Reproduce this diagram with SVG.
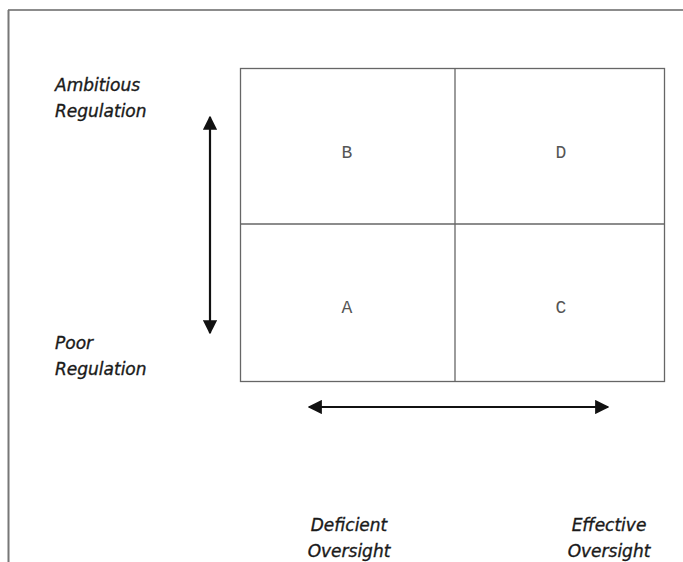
<svg xmlns="http://www.w3.org/2000/svg" width="683" height="562" viewBox="0 0 683 562">
<style>
.lbl{font-family:"DejaVu Sans","Liberation Sans",sans-serif;font-style:italic;font-size:17px;fill:#1a1a1a;stroke:#1a1a1a;stroke-width:0.35}
.q{font-family:"Liberation Mono","DejaVu Sans Mono",monospace;font-size:18px;fill:#555;text-anchor:middle}
.grid{fill:none;stroke:#666;stroke-width:1.3}
.ax{stroke:#111;stroke-width:2.2;fill:none}
</style>
<defs>
<marker id="ah" viewBox="0 0 10 10" refX="9" refY="5" markerWidth="6.5" markerHeight="6.5" markerUnits="strokeWidth" orient="auto-start-reverse">
<path d="M0,0 L10,5 L0,10 z" fill="#111"/>
</marker>
</defs>
<g id="frame">
<line x1="8" y1="10" x2="683" y2="10" stroke="#666" stroke-width="1.5"/>
<line x1="8.5" y1="10" x2="8.5" y2="562" stroke="#777" stroke-width="2"/>
</g>
<g id="quadrants">
<rect class="grid" x="240.5" y="68.5" width="424" height="313"/>
<line class="grid" x1="455" y1="68.5" x2="455" y2="381.5"/>
<line class="grid" x1="240.5" y1="224" x2="664.5" y2="224"/>
</g>
<g id="node-B"><text class="q" x="347" y="158">B</text></g>
<g id="node-D"><text class="q" x="561" y="158">D</text></g>
<g id="node-A"><text class="q" x="347" y="313">A</text></g>
<g id="node-C"><text class="q" x="561" y="313">C</text></g>
<g id="connectors">
<line class="ax" x1="210" y1="117" x2="210" y2="333" marker-start="url(#ah)" marker-end="url(#ah)"/>
<line class="ax" x1="309" y1="407" x2="608" y2="407" marker-start="url(#ah)" marker-end="url(#ah)"/>
</g>
<g id="label-ambitious">
<text class="lbl" x="55" y="91">Ambitious</text>
<text class="lbl" x="55" y="117">Regulation</text>
</g>
<g id="label-poor">
<text class="lbl" x="55" y="349">Poor</text>
<text class="lbl" x="55" y="375">Regulation</text>
</g>
<g id="label-deficient">
<text class="lbl" x="349" y="531" text-anchor="middle">Deficient</text>
<text class="lbl" x="349" y="557" text-anchor="middle">Oversight</text>
</g>
<g id="label-effective">
<text class="lbl" x="609" y="531" text-anchor="middle">Effective</text>
<text class="lbl" x="609" y="557" text-anchor="middle">Oversight</text>
</g>
</svg>
